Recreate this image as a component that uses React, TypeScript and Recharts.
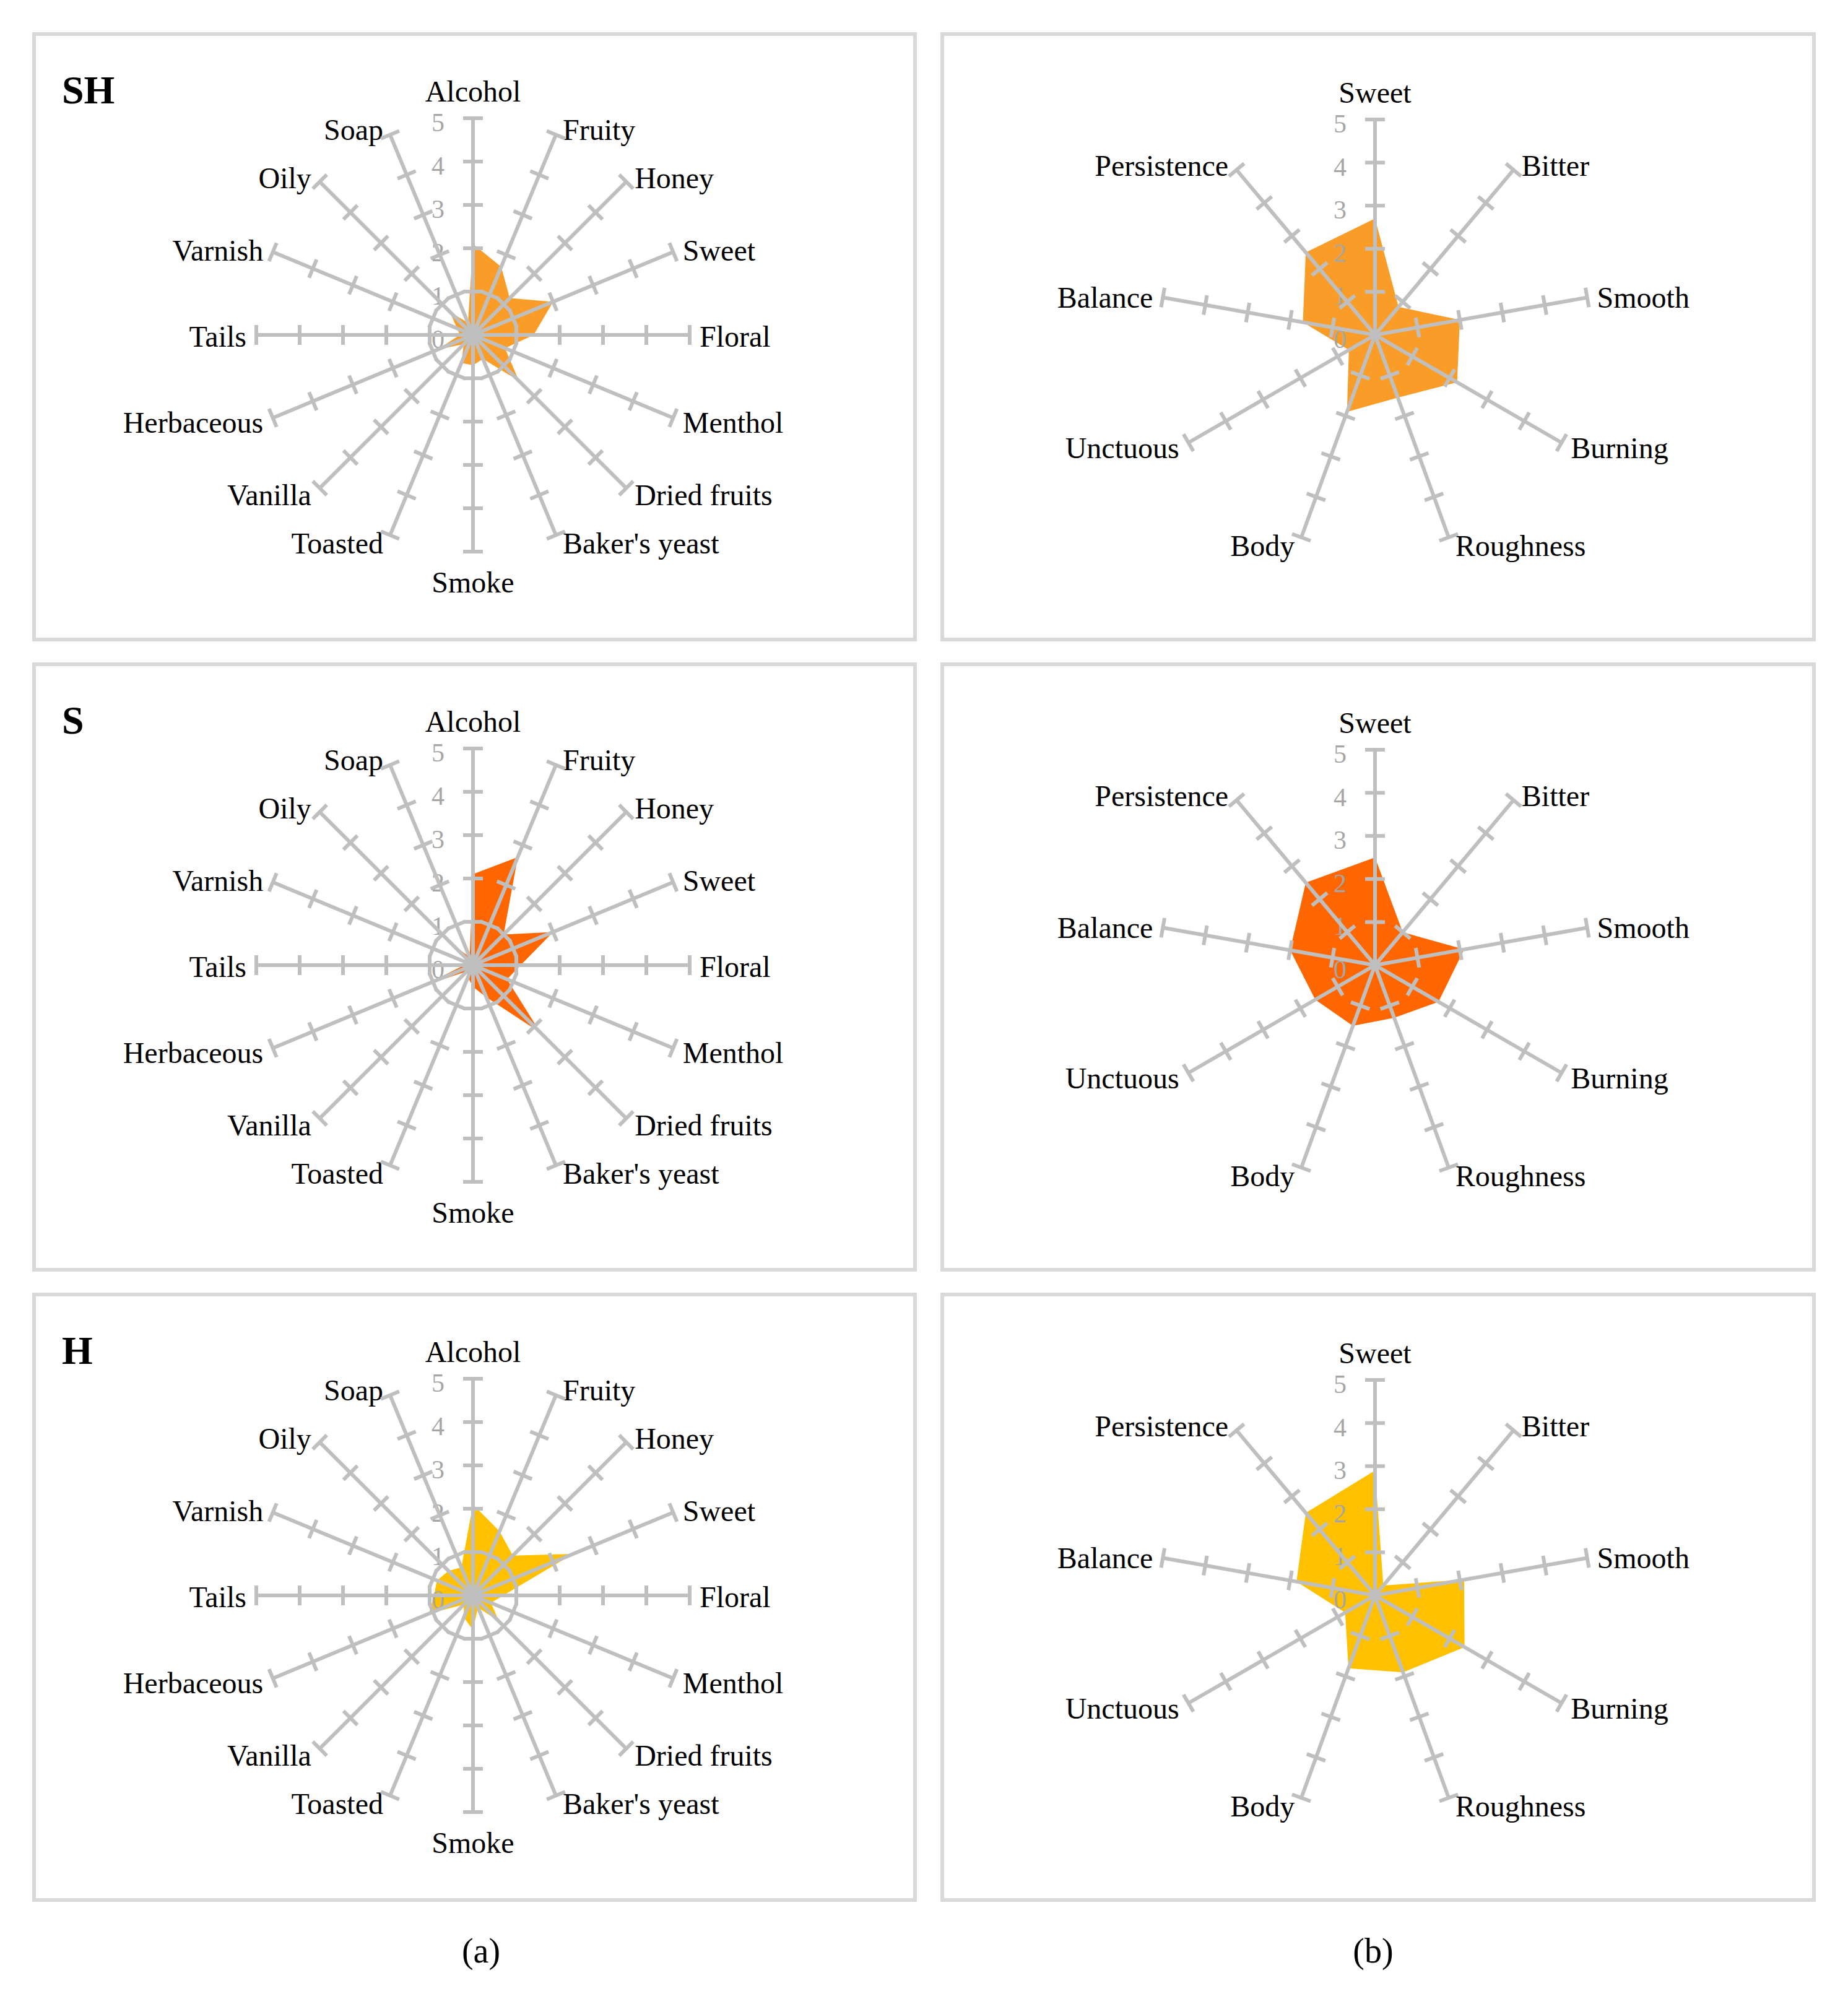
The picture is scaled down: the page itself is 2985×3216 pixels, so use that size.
import React from 'react';
import { RadarChart, Radar, PolarAngleAxis, PolarRadiusAxis } from 'recharts';

// Aroma attributes (a) and taste attributes (b), clockwise from the top
const AROMA_ATTRS = [
  'Alcohol', 'Fruity', 'Honey', 'Sweet', 'Floral', 'Menthol', 'Dried fruits', "Baker's yeast",
  'Smoke', 'Toasted', 'Vanilla', 'Herbaceous', 'Tails', 'Varnish', 'Oily', 'Soap',
];
const TASTE_ATTRS = ['Sweet', 'Bitter', 'Smooth', 'Burning', 'Roughness', 'Body', 'Unctuous', 'Balance', 'Persistence'];

// Panel scores
const SH_AROMA = [2.1, 1.7, 1.2, 2.0, 1.4, 0.8, 1.5, 0.6, 0.7, 0.7, 0.3, 0.9, 0.3, 0.4, 0.75, 0.3];
const S_AROMA = [2.1, 2.7, 1.0, 2.0, 1.1, 0.85, 2.2, 0.8, 0.5, 0.3, 0.2, 1.3, 0.2, 0.1, 0.7, 0.2];
const H_AROMA = [2.1, 1.6, 1.3, 2.5, 0.7, 0.45, 0.85, 0.3, 0.8, 0.55, 0.3, 1.1, 0.9, 0.9, 0.8, 0.7];

const SH_TASTE = [2.7, 0.85, 2.0, 2.2, 1.55, 1.9, 0.7, 1.7, 2.5];
const S_TASTE = [2.5, 1.0, 2.1, 1.7, 1.3, 1.5, 1.6, 2.0, 2.5];
const H_TASTE = [2.9, 0.3, 2.1, 2.4, 1.9, 1.8, 0.8, 1.85, 2.5];

const SAMPLE_TITLES = ['SH', 'S', 'H'];
const SAMPLE_COLORS = ['#F99D28', '#FF6600', '#FFC000'];
const CAPTIONS = ['(a)', '(b)'];

const FONT = '"Liberation Serif", "Times New Roman", serif';
const GRID = '#BFBFBF';
const BOX = '#D9D9D9';

const ROW_TOPS = [52, 1070, 2088];
const PANEL_H = 984;

/**
 * Tick mark across a spoke, plus the scale number on the first spoke
 */
function SpokeTick(props: any) {
  const { x, y, transform, payload, withNumbers } = props;
  return (
    <g>
      {payload.value > 0 && (
        <line x1={x - 16} y1={y} x2={x + 16} y2={y} transform={transform} stroke={GRID} strokeWidth={6} />
      )}
      {withNumbers && (
        <text x={x - 46} y={y + 21} textAnchor="end" fontSize={42} fontFamily={FONT} fill="#A6A6A6">
          {payload.value}
        </text>
      )}
    </g>
  );
}

/**
 * Category label outside the end of each spoke (Excel-like placement)
 */
function AttrTick(props: any) {
  const { x, y, payload } = props;
  const rad = (payload.coordinate * Math.PI) / 180;
  const c = Math.cos(rad);
  const s = Math.sin(rad);
  let anchor = 'middle';
  let tx = x;
  let ty: number;
  if (c > 0.05) {
    anchor = 'start';
    tx = x + 8;
  } else if (c < -0.05) {
    anchor = 'end';
    tx = x - 8;
  }
  if (Math.abs(c) <= 0.05) ty = s > 0 ? y - 19 : y + 58;
  else ty = y + 19 - 4 * s;
  return (
    <text x={tx} y={ty} textAnchor={anchor} fontSize={48} fontFamily={FONT} fill="#000">
      {payload.value}
    </text>
  );
}

interface PanelProps {
  left: number;
  top: number;
  width: number;
  attrs: string[];
  values: number[];
  color: string;
  cx: number;
  radius: number;
}

function Panel({ left, top, width, attrs, values, color, cx, radius }: PanelProps) {
  const data = attrs.map((attr, i) => ({ attr, value: values[i] }));
  const step = 360 / attrs.length;
  return (
    <div style={{ position: 'absolute', left, top, width, height: PANEL_H }}>
      <div
        style={{
          position: 'absolute',
          left: 0,
          top: 0,
          width,
          height: PANEL_H,
          border: `6px solid ${BOX}`,
          boxSizing: 'border-box',
        }}
      />
      <div style={{ position: 'absolute', left: 0, top: 0 }}>
        <RadarChart
          width={width}
          height={PANEL_H}
          data={data}
          cx={cx}
          cy={489}
          outerRadius={radius}
          margin={{ top: 0, right: 0, bottom: 0, left: 0 }}
        >
          <Radar dataKey="value" fill={color} fillOpacity={1} stroke="none" dot={false} isAnimationActive={false} />
          <PolarAngleAxis dataKey="attr" axisLine={false} tickLine={false} tickSize={0} tick={AttrTick} />
          {attrs.map((_, i) => (
            <PolarRadiusAxis
              key={i}
              radiusAxisId={i}
              angle={90 - i * step}
              type="number"
              domain={[0, 5]}
              allowDataOverflow
              tickCount={6}
              stroke={GRID}
              axisLine={{ stroke: GRID, strokeWidth: 6 }}
              tick={(p: any) => <SpokeTick {...p} withNumbers={i === 0} />}
            />
          ))}
        </RadarChart>
      </div>
    </div>
  );
}

export default function App() {
  const aroma = [SH_AROMA, S_AROMA, H_AROMA];
  const taste = [SH_TASTE, S_TASTE, H_TASTE];
  return (
    <div style={{ position: 'absolute', left: 0, top: 0, width: 2985, height: 3216, background: '#fff' }}>
      {ROW_TOPS.map((top, r) => (
        <React.Fragment key={r}>
          <Panel
            left={52}
            top={top}
            width={1429}
            attrs={AROMA_ATTRS}
            values={aroma[r]}
            color={SAMPLE_COLORS[r]}
            cx={712}
            radius={350}
          />
          <Panel
            left={1519}
            top={top}
            width={1414}
            attrs={TASTE_ATTRS}
            values={taste[r]}
            color={SAMPLE_COLORS[r]}
            cx={702}
            radius={348}
          />
        </React.Fragment>
      ))}
      <svg width={2985} height={3216} style={{ position: 'absolute', left: 0, top: 0, pointerEvents: 'none' }}>
        {ROW_TOPS.map((top, r) => (
          <text key={r} x={100} y={top + 115} fontSize={64} fontWeight="bold" fontFamily={FONT} fill="#000">
            {SAMPLE_TITLES[r]}
          </text>
        ))}
        <text x={777} y={3170} textAnchor="middle" fontSize={56} fontFamily={FONT} fill="#000">
          {CAPTIONS[0]}
        </text>
        <text x={2218} y={3170} textAnchor="middle" fontSize={56} fontFamily={FONT} fill="#000">
          {CAPTIONS[1]}
        </text>
      </svg>
    </div>
  );
}
